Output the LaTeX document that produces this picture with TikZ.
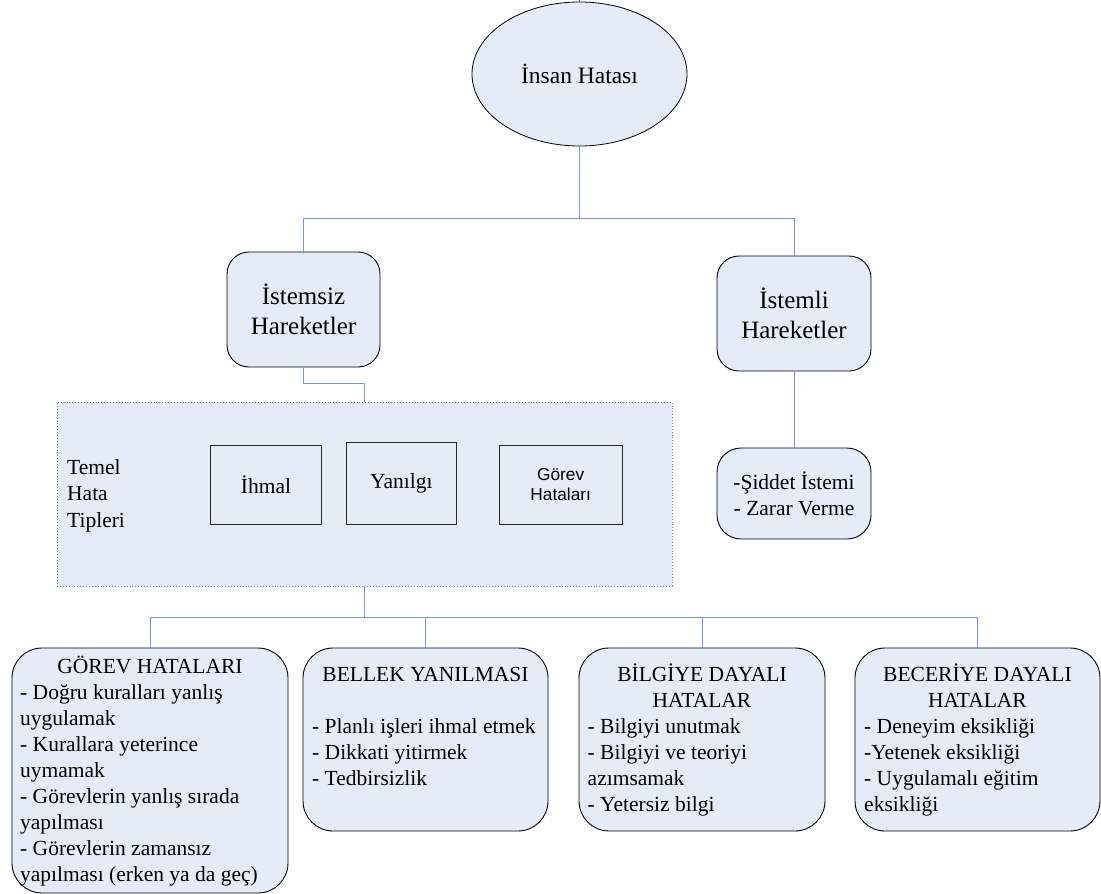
\documentclass[tikz,border=0pt]{standalone}
\usepackage{fontspec}
\setmainfont{Liberation Serif}
\newfontfamily\arialfont{Liberation Sans}
\usetikzlibrary{shapes.geometric}

\definecolor{boxfill}{RGB}{229,235,247}
\definecolor{linkblue}{RGB}{115,150,210}
\definecolor{dotgray}{RGB}{120,120,120}

\newcommand\bodyfont{\fontsize{21.5}{26}\selectfont}
\newcommand\headfont{\fontsize{25}{30}\selectfont}
\newcommand\itemlist[1]{\begin{tabular}[t]{@{}l@{}}#1\end{tabular}}

\begin{document}
\begin{tikzpicture}[x=1pt,y=-1pt,
  conn/.style={draw=linkblue, line width=1pt},
  rbox/.style={draw=black, line width=0.9pt, fill=boxfill, rounded corners=#1, inner sep=0pt},
  sqbox/.style={draw=black!85, line width=0.9pt, inner sep=0pt},
  txt/.style={inner sep=0pt, font=\bodyfont},
]
\useasboundingbox (0,0) rectangle (1101,894);

% top of the tree
\node[ellipse, draw=black, line width=0.8pt, fill=boxfill, minimum width=215pt,
      minimum height=144pt, inner sep=0pt, font=\fontsize{23.5}{28}\selectfont]
      (ins) at (579.5,74) {İnsan Hatası};
\coordinate (topend) at (579.5,0);

% second level
\node[rbox=22pt, minimum width=153pt, minimum height=115pt, align=center, font=\headfont]
      (istz) at (303.5,309.5) {İstemsiz\\Hareketler};
\node[rbox=22pt, minimum width=154pt, minimum height=115pt, align=center, font=\headfont]
      (istl) at (794,313.5) {İstemli\\Hareketler};
\node[rbox=24pt, minimum width=154pt, minimum height=91pt, align=center, font=\bodyfont]
      (sid) at (794,493.5) {-Şiddet İstemi\\- Zarar Verme};

% basic error types panel
\node[draw=dotgray, dotted, line width=0.9pt, fill=boxfill, minimum width=615pt,
      minimum height=184pt, inner sep=0pt] (temel) at (364.5,494) {};
\node[txt, anchor=base west] (temeltxt) at (67,474)
      {\fontsize{21.5}{26.5}\selectfont\itemlist{Temel\\Hata\\Tipleri}};
\node[sqbox, minimum width=111pt, minimum height=79pt, font=\bodyfont]
      (ihmal) at (266,484.5) {İhmal};
\node[sqbox, minimum width=110.6pt, minimum height=82pt, font=\bodyfont]
      (yanilgi) at (401.3,483) {Yanılgı};
\node[sqbox, minimum width=123.5pt, minimum height=79pt, align=center,
      font=\arialfont\fontsize{17.3}{20}\selectfont]
      (gorevh) at (560.7,484.5) {Görev\\Hataları};

% bottom level boxes
\node[rbox=30pt, minimum width=276pt, minimum height=245pt] (gorev) at (150,770.5) {};
\node[rbox=30pt, minimum width=245pt, minimum height=183pt] (bellek) at (425.5,739.5) {};
\node[rbox=30pt, minimum width=246pt, minimum height=183pt] (bilgi) at (702,739.5) {};
\node[rbox=30pt, minimum width=245pt, minimum height=183pt] (beceri) at (977.5,739.5) {};

\node[txt, anchor=base] (gorevtitle) at (150,673) {GÖREV HATALARI};
\node[txt, anchor=base west] (gorevitems) at (20,699) {\itemlist{%
  - Doğru kuralları yanlış\\
  uygulamak\\
  - Kurallara yeterince\\
  uymamak\\
  - Görevlerin yanlış sırada\\
  yapılması\\
  - Görevlerin zamansız\\
  yapılması (erken ya da geç)}};

\node[txt, anchor=base] (bellektitle) at (425.5,681) {BELLEK YANILMASI};
\node[txt, anchor=base west] (bellekitems) at (312,733) {\itemlist{%
  - Planlı işleri ihmal etmek\\
  - Dikkati yitirmek\\
  - Tedbirsizlik}};

\node[txt, anchor=base] (bilgititle) at (702,681)
      {\begin{tabular}[t]{@{}c@{}}BİLGİYE DAYALI\\HATALAR\end{tabular}};
\node[txt, anchor=base west] (bilgiitems) at (587.5,733) {\itemlist{%
  - Bilgiyi unutmak\\
  - Bilgiyi ve teoriyi\\
  azımsamak\\
  - Yetersiz bilgi}};

\node[txt, anchor=base] (beceritile) at (977.5,681)
      {\begin{tabular}[t]{@{}c@{}}BECERİYE DAYALI\\HATALAR\end{tabular}};
\node[txt, anchor=base west] (beceriitems) at (864,733) {\itemlist{%
  - Deneyim eksikliği\\
  -Yetenek eksikliği\\
  - Uygulamalı eğitim\\
  eksikliği}};

% connectors
\draw[conn] (ins.north) -- (topend);
\draw[conn] (ins.south) -- ++(0,72) -| (istz.north);
\draw[conn] (ins.south) -- ++(0,72) -| (istl.north);
\draw[conn] (istz.south) -- ++(0,16) -| (temel.north);
\draw[conn] (istl.south) -- (sid.north);
\draw[conn] (temel.south) -- ++(0,31) -| (gorev.north);
\draw[conn] (temel.south) -- ++(0,31) -| (bellek.north);
\draw[conn] (temel.south) -- ++(0,31) -| (bilgi.north);
\draw[conn] (temel.south) -- ++(0,31) -| (beceri.north);
\end{tikzpicture}
\end{document}
